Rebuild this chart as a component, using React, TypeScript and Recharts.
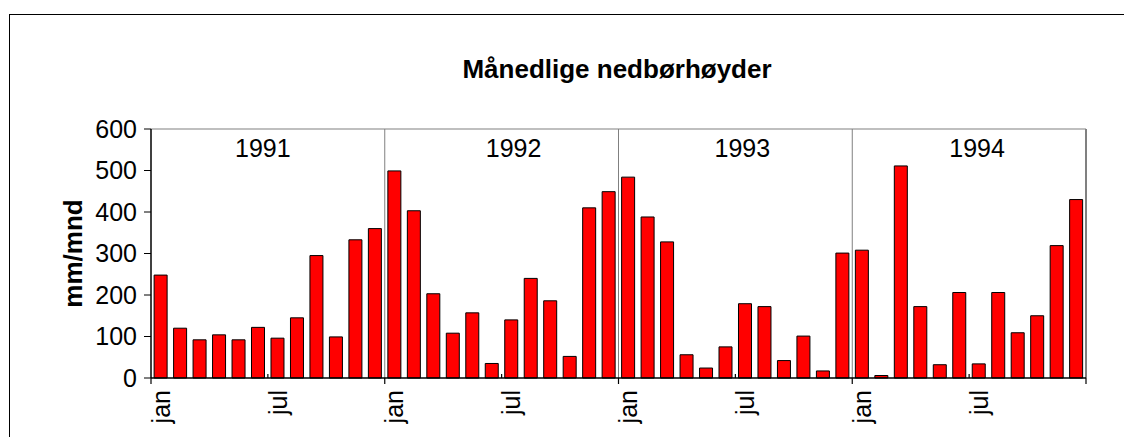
import { BarChart, Bar, XAxis, YAxis, ReferenceLine, ReferenceArea, Label } from "recharts"

// monthly precipitation, mm/mnd
const years = ["1991", "1992", "1993", "1994"]
const months = ["jan", "feb", "mar", "apr", "mai", "jun", "jul", "aug", "sep", "okt", "nov", "des"]
const labelledMonths = ["jan", "jul"]
const yTicks = [0, 100, 200, 300, 400, 500, 600]

const rain1991 = [248, 120, 92, 104, 92, 122, 96, 145, 295, 99, 333, 360]
const rain1992 = [499, 403, 203, 108, 157, 35, 140, 240, 186, 52, 410, 449]
const rain1993 = [484, 388, 328, 56, 24, 75, 179, 172, 42, 101, 17, 301]
const rain1994 = [308, 6, 511, 172, 32, 206, 34, 206, 109, 150, 319, 430]

const series = [rain1991, rain1992, rain1993, rain1994]

const data = years.flatMap((year, yi) =>
  months.map((month, mi) => ({ key: `${month} ${year}`, month, year, mm: series[yi][mi] }))
)

const W = 1124
const H = 437
const PLOT_LEFT = 151
const PLOT_RIGHT = 1086
const PLOT_TOP = 129
const PLOT_BOTTOM = 378
const Y_AXIS_W = 90
const SLOT = (PLOT_RIGHT - PLOT_LEFT) / data.length
// year text boxes in the original sit a bit off-centre
const YEAR_DX = [-5, 12, 7, 8]

const FONT = "'Liberation Sans', Arial, sans-serif"

function MonthTick(props: any) {
  const { x, y, index } = props
  const d = data[index]
  if (!d) return null
  const edge = x - SLOT / 2
  return (
    <g>
      {d.month === "jan" && <line x1={edge} y1={y} x2={edge} y2={y + 6} stroke="#000" strokeWidth={1.2} />}
      {d.month === "jul" && <line x1={edge} y1={y} x2={edge} y2={y - 4} stroke="#000" strokeWidth={1.2} />}
      {index === data.length - 1 && (
        <line x1={x + SLOT / 2} y1={y} x2={x + SLOT / 2} y2={y + 6} stroke="#000" strokeWidth={1.2} />
      )}
      {labelledMonths.includes(d.month) && (
        <text
          x={x}
          y={y + 12}
          transform={`rotate(-90, ${x}, ${y + 12})`}
          textAnchor="end"
          dominantBaseline="central"
          fontSize={25}
          fill="#000"
        >
          {d.month}
        </text>
      )}
    </g>
  )
}

function YTitle(props: any) {
  const { viewBox } = props
  const cx = viewBox.x + 12
  const cy = viewBox.y + viewBox.height / 2
  return (
    <text
      x={cx}
      y={cy}
      transform={`rotate(-90, ${cx}, ${cy})`}
      textAnchor="middle"
      dominantBaseline="central"
      fontSize={26}
      fontWeight="bold"
      fill="#000"
    >
      mm/mnd
    </text>
  )
}

export default function App() {
  return (
    <div style={{ position: "absolute", left: 0, top: 0, width: W, height: H, overflow: "hidden", background: "#fff", fontFamily: FONT }}>
      <div style={{ position: "absolute", left: 9, top: 14, width: 1300, height: 600, border: "1px solid #000" }} />
      <div
        style={{
          position: "absolute",
          left: 617,
          top: 56,
          transform: "translateX(-50%)",
          fontSize: 26,
          lineHeight: 1,
          fontWeight: "bold",
          whiteSpace: "nowrap",
          color: "#000"
        }}
      >
        Månedlige nedbørhøyder
      </div>
      <div style={{ position: "absolute", left: 0, top: 0 }}>
        <BarChart
          width={W}
          height={H}
          data={data}
          margin={{ top: PLOT_TOP, right: W - PLOT_RIGHT, bottom: 0, left: PLOT_LEFT - Y_AXIS_W }}
          barCategoryGap="16%"
        >
          <XAxis
            dataKey="key"
            interval={0}
            height={H - PLOT_BOTTOM}
            tickSize={0}
            tickMargin={0}
            tickLine={false}
            tick={<MonthTick />}
            axisLine={{ stroke: "#000", strokeWidth: 1.5 }}
          />
          <YAxis
            domain={[0, 600]}
            ticks={yTicks}
            interval={0}
            width={Y_AXIS_W}
            tickSize={7}
            tickMargin={7}
            tick={{ fontSize: 25, fill: "#000" }}
            tickLine={{ stroke: "#000" }}
            axisLine={{ stroke: "#000", strokeWidth: 1.5 }}
          >
            <Label content={<YTitle />} />
          </YAxis>
          {years.map((year, i) => (
            <ReferenceArea
              key={year}
              x1={`jan ${year}`}
              x2={`des ${year}`}
              y1={0}
              y2={600}
              ifOverflow="visible"
              fill="none"
              fillOpacity={0}
              stroke="none"
              label={{ value: year, position: "insideTop", offset: 10, dx: YEAR_DX[i], fontSize: 25, fill: "#000" }}
            />
          ))}
          <ReferenceLine y={600} stroke="#808080" strokeWidth={1.2} />
          {years.slice(1).map((year) => (
            <ReferenceLine key={year} x={`jan ${year}`} position="start" stroke="#808080" strokeWidth={1} />
          ))}
          <ReferenceLine
            x={`des ${years[years.length - 1]}`}
            position="end"
            ifOverflow="visible"
            stroke="#808080"
            strokeWidth={2}
          />
          <Bar
            dataKey="mm"
            fill="#FF0000"
            stroke="#000"
            strokeWidth={1}
            isAnimationActive={false}
          />
        </BarChart>
      </div>
    </div>
  )
}
